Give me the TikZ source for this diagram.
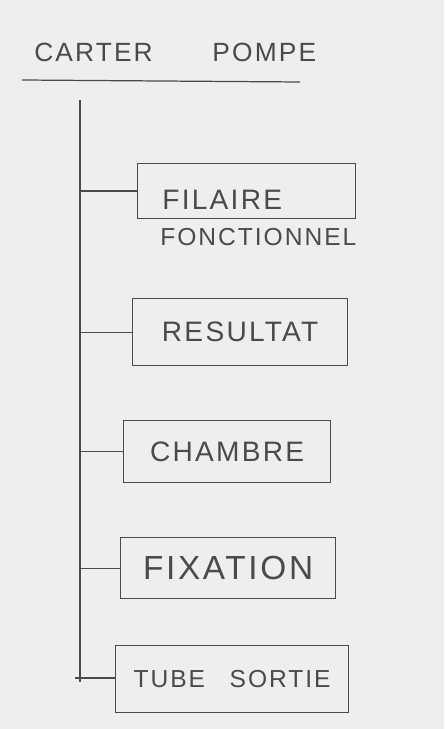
\documentclass[tikz,border=0pt]{standalone}
\usepackage{fontspec}
\setmainfont[LetterSpace=8]{Liberation Sans}
\definecolor{pencil}{HTML}{4A4A4A}
\definecolor{paper}{HTML}{EEEEEE}
\begin{document}
\begin{tikzpicture}[x=0.02cm,y=-0.02cm,
  pen/.style={draw=pencil,line width=0.7pt},
  boxnode/.style={pen,rectangle,anchor=north west,inner sep=0pt},
  txt/.style={text=pencil,font=\fontsize{16}{20}\selectfont,inner sep=0pt}]
\fill[paper] (0,0) rectangle (444,729);
\useasboundingbox (0,0) rectangle (444,729);
% title
\node[txt,anchor=west,font=\fontsize{15}{18}\selectfont] (title) at (34,52) {CARTER\hspace{34pt}POMPE};
\coordinate (ulA) at (22,80);
\coordinate (ulB) at (300,82);
\draw[pen] (ulA) -- (ulB);
% trunk
\coordinate (top) at (80,100);
\coordinate (bot) at (80,682);
\draw[pen] (top) -- (bot);
% boxes
\node[boxnode,minimum width=218*0.02cm,minimum height=55*0.02cm] (b1) at (137,163) {};
\node[txt,anchor=west] (t1) at (162,200) {FILAIRE};
\node[txt,anchor=west,font=\fontsize{14}{16}\selectfont] (t1b) at (160,237) {FONCTIONNEL};
\node[boxnode,minimum width=215*0.02cm,minimum height=67*0.02cm] (b2) at (132,298) {};
\node[txt] (t2) at (b2.center) {RESULTAT};
\node[boxnode,minimum width=207*0.02cm,minimum height=62*0.02cm] (b3) at (123,420) {};
\node[txt] (t3) at (b3.center) {CHAMBRE};
\node[boxnode,minimum width=215*0.02cm,minimum height=61*0.02cm] (b4) at (120,537) {};
\node[txt,font=\fontsize{19}{22}\selectfont] (t4) at (b4.center) {FIXATION};
\node[boxnode,minimum width=233*0.02cm,minimum height=67*0.02cm] (b5) at (115,645) {};
\node[txt,font=\fontsize{14}{16}\selectfont] (t5) at (b5.center) {TUBE\hspace{14pt}SORTIE};
% connectors
\foreach \b in {b1,b2,b3,b4} {
  \draw[pen] (top |- \b.west) -- (\b.west);
}
\coordinate (c5) at (75,678);
\draw[pen] (c5) -- (b5.west |- c5);
\end{tikzpicture}
\end{document}
